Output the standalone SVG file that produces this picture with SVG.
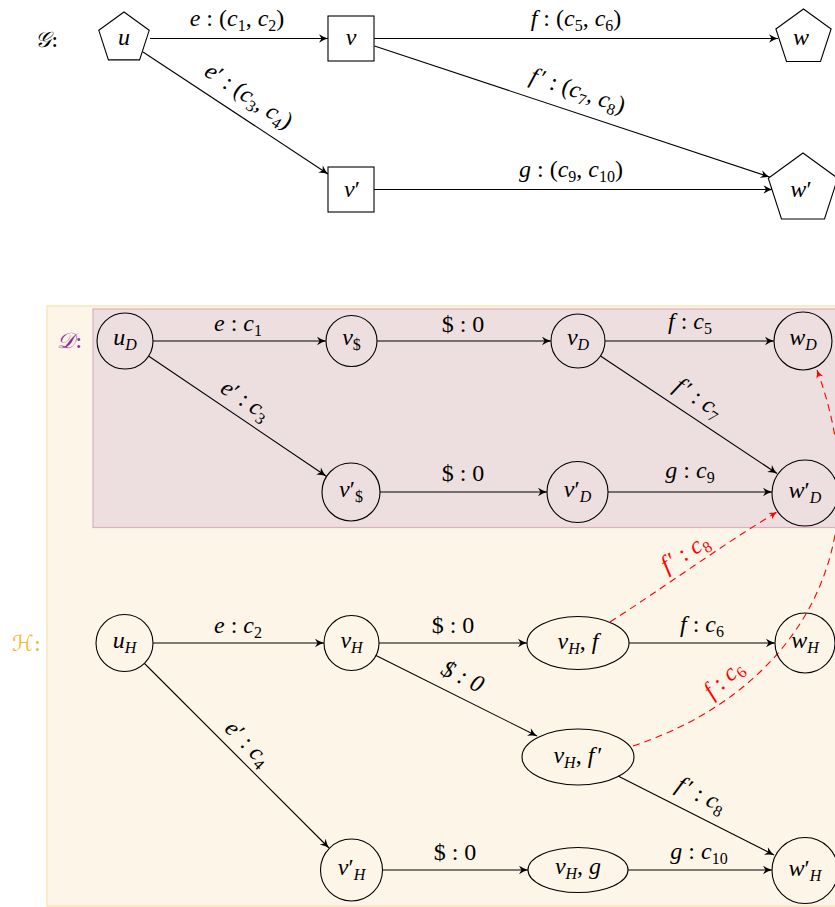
<svg xmlns="http://www.w3.org/2000/svg" width="835" height="907" viewBox="0 0 835 907">
<style>
.m{font-family:"Liberation Serif","DejaVu Serif",serif;font-size:24px;fill:#000;text-anchor:middle}
.i{font-style:italic}
.s{font-size:16px}
.red{fill:#ff0000}
.e{fill:none;stroke:#000;stroke-width:1.1;marker-end:url(#ar)}
.rd{fill:none;stroke:#ff0000;stroke-width:1.1;stroke-dasharray:7 5;marker-end:url(#arr)}
.n{fill:none;stroke:#000;stroke-width:1.1}
.nw{fill:#fff;stroke:#000;stroke-width:1.1}
.sc{font-family:"DejaVu Serif","DejaVu Sans",serif;font-size:22px;font-style:italic}
</style>
<defs>
<marker id="ar" viewBox="-10 -5 11 10" refX="0" refY="0" markerWidth="11" markerHeight="10" markerUnits="userSpaceOnUse" orient="auto"><path d="M-9,-4.2 Q-4,-1 0,0 Q-4,1 -9,4.2 L-6.5,0 Z" fill="#000"/></marker>
<marker id="arr" viewBox="-10 -5 11 10" refX="0" refY="0" markerWidth="11" markerHeight="10" markerUnits="userSpaceOnUse" orient="auto"><path d="M-8,-3.6 Q-3.5,-0.9 0,0 Q-3.5,0.9 -8,3.6 L-5.8,0 Z" fill="#ff0000"/></marker>
</defs>
<rect width="835" height="907" fill="#fff"/>

<g id="box-H"><rect x="47" y="306" width="800" height="600" fill="#fdf5e8" stroke="#fde0a6" stroke-width="1.2"/>
<text class="sc" x="12" y="651" fill="#f7b733">ℋ<tspan font-style="normal">:</tspan></text></g>
<g id="box-D"><rect x="93" y="309" width="760" height="218.5" fill="#eddfdf" stroke="#d9b0c2" stroke-width="1.2"/>
<text class="sc" x="57" y="348" fill="#952a95">𝒟<tspan font-style="normal">:</tspan></text></g>

<g id="label-G"><text class="sc" x="35" y="47" fill="#000">𝒢<tspan font-style="normal">:</tspan></text></g>

<g id="connectors">
<path class="e" d="M150,38.5 H328"/>
<path class="e" d="M374,38.5 H778"/>
<path class="e" d="M143,52 L328,174"/>
<path class="e" d="M374.5,46 L769.5,177"/>
<path class="e" d="M374,189.5 H772.5"/>

<path class="e" d="M153,341 H326"/>
<path class="e" d="M377,341 H551"/>
<path class="e" d="M605,341 H774"/>
<path class="e" d="M148.5,356 L326,476"/>
<path class="e" d="M380,492 H547"/>
<path class="e" d="M600.5,356 L777,473.5"/>
<path class="e" d="M608,492 H772"/>

<path class="e" d="M153,643 H324"/>
<path class="e" d="M379,643 H527"/>
<path class="e" d="M376,655.5 L537,736"/>
<path class="e" d="M629,643 H775"/>
<path class="e" d="M144.5,663.5 L329,848"/>
<path class="e" d="M618,776 L774,855"/>
<path class="e" d="M382.5,870 H528"/>
<path class="e" d="M628,870 H772"/>

<path class="rd" d="M610,622 C660,590 722,545 777,512"/>
<path class="rd" d="M633,746 C790,694 885,555 817,370"/>

<text class="m" x="237" y="26"><tspan class="i">e</tspan> : (<tspan class="i">c</tspan><tspan class="s" dy="5">1</tspan><tspan dy="-5">, </tspan><tspan class="i">c</tspan><tspan class="s" dy="5">2</tspan><tspan dy="-5">)</tspan></text>
<text class="m" x="576" y="26"><tspan class="i">f</tspan> : (<tspan class="i">c</tspan><tspan class="s" dy="5">5</tspan><tspan dy="-5">, </tspan><tspan class="i">c</tspan><tspan class="s" dy="5">6</tspan><tspan dy="-5">)</tspan></text>
<text class="m" x="571" y="177"><tspan class="i">g</tspan> : (<tspan class="i">c</tspan><tspan class="s" dy="5">9</tspan><tspan dy="-5">, </tspan><tspan class="i">c</tspan><tspan class="s" dy="5">10</tspan><tspan dy="-5">)</tspan></text>
<text class="m" transform="translate(247.5,98) rotate(33.4)" x="0" y="5"><tspan class="i">e</tspan>′ : (<tspan class="i">c</tspan><tspan class="s" dy="5">3</tspan><tspan dy="-5">, </tspan><tspan class="i">c</tspan><tspan class="s" dy="5">4</tspan><tspan dy="-5">)</tspan></text>
<text class="m" transform="translate(577,93) rotate(18.3)" x="0" y="5"><tspan class="i">f</tspan><tspan dx="3">′</tspan> : (<tspan class="i">c</tspan><tspan class="s" dy="5">7</tspan><tspan dy="-5">, </tspan><tspan class="i">c</tspan><tspan class="s" dy="5">8</tspan><tspan dy="-5">)</tspan></text>

<text class="m" x="238" y="331"><tspan class="i">e</tspan> : <tspan class="i">c</tspan><tspan class="s" dy="5">1</tspan></text>
<text class="m" x="463" y="332">$ : 0</text>
<text class="m" x="690" y="329"><tspan class="i">f</tspan> : <tspan class="i">c</tspan><tspan class="s" dy="5">5</tspan></text>
<text class="m" transform="translate(244,402) rotate(33.6)" x="0" y="5"><tspan class="i">e</tspan>′ : <tspan class="i">c</tspan><tspan class="s" dy="5">3</tspan></text>
<text class="m" x="463" y="481">$ : 0</text>
<text class="m" transform="translate(697,400) rotate(33.8)" x="0" y="5"><tspan class="i">f</tspan><tspan dx="3">′</tspan> : <tspan class="i">c</tspan><tspan class="s" dy="5">7</tspan></text>
<text class="m" x="690" y="478"><tspan class="i">g</tspan> : <tspan class="i">c</tspan><tspan class="s" dy="5">9</tspan></text>

<text class="m" x="238" y="633"><tspan class="i">e</tspan> : <tspan class="i">c</tspan><tspan class="s" dy="5">2</tspan></text>
<text class="m" x="453" y="633">$ : 0</text>
<text class="m" x="702" y="632"><tspan class="i">f</tspan> : <tspan class="i">c</tspan><tspan class="s" dy="5">6</tspan></text>
<text class="m i" transform="translate(462,678) rotate(26.3)" x="0" y="6">$ : 0</text>
<text class="m" transform="translate(700,797) rotate(26.5)" x="0" y="5"><tspan class="i">f</tspan><tspan dx="3">′</tspan> : <tspan class="i">c</tspan><tspan class="s" dy="5">8</tspan></text>
<text class="m" transform="translate(246,745) rotate(44.8)" x="0" y="5"><tspan class="i">e</tspan>′ : <tspan class="i">c</tspan><tspan class="s" dy="5">4</tspan></text>
<text class="m" x="455" y="860">$ : 0</text>
<text class="m" x="699" y="859"><tspan class="i">g</tspan> : <tspan class="i">c</tspan><tspan class="s" dy="5">10</tspan></text>

<text class="m red" transform="translate(686,555) rotate(-32.5)" x="0" y="5"><tspan class="i">f</tspan><tspan dx="3">′</tspan> : <tspan class="i">c</tspan><tspan class="s" dy="5">8</tspan></text>
<text class="m red" transform="translate(725,681) rotate(-42)" x="0" y="5"><tspan class="i">f</tspan> : <tspan class="i">c</tspan><tspan class="s" dy="5">6</tspan></text>
</g>

<g id="node-u"><polygon class="nw" points="124,12 149.2,30.3 139.6,59.9 108.4,59.9 98.8,30.3"/><text class="m i" x="124" y="45">u</text></g>
<g id="node-v"><rect class="nw" x="328" y="16" width="46" height="45"/><text class="m i" x="351" y="45">v</text></g>
<g id="node-vp"><rect class="nw" x="328" y="167" width="46" height="45"/><text class="m" x="352" y="197"><tspan class="i">v</tspan>′</text></g>
<g id="node-w"><polygon class="nw" points="803.5,9 831.1,29 820.5,61.5 786.5,61.5 775.9,29"/><text class="m i" x="801" y="45">w</text></g>
<g id="node-wp"><polygon class="nw" points="803,153 837.7,178.2 824.5,219 781.5,219 768.3,178.2"/><text class="m" x="801" y="197"><tspan class="i">w</tspan>′</text></g>

<g id="node-uD"><circle class="n" cx="125" cy="341" r="28"/><text class="m" x="125" y="345"><tspan class="i">u</tspan><tspan class="i s" dy="5">D</tspan></text></g>
<g id="node-vS"><circle class="n" cx="351.5" cy="341" r="25.5"/><text class="m" x="351.5" y="345"><tspan class="i">v</tspan><tspan class="s" dy="5">$</tspan></text></g>
<g id="node-vD"><circle class="n" cx="578" cy="341" r="27"/><text class="m" x="578" y="345"><tspan class="i">v</tspan><tspan class="i s" dy="5">D</tspan></text></g>
<g id="node-wD"><circle class="n" cx="803" cy="341" r="29"/><text class="m" x="803" y="345"><tspan class="i">w</tspan><tspan class="i s" dy="5">D</tspan></text></g>
<g id="node-vSp"><circle class="n" cx="351" cy="492" r="29"/><text class="m" x="351" y="497"><tspan class="i">v</tspan>′<tspan class="s" dy="5">$</tspan></text></g>
<g id="node-vDp"><circle class="n" cx="577.5" cy="492" r="30.5"/><text class="m" x="577.5" y="497"><tspan class="i">v</tspan>′<tspan class="i s" dy="5">D</tspan></text></g>
<g id="node-wDp"><circle class="n" cx="805" cy="493" r="33"/><text class="m" x="805" y="498"><tspan class="i">w</tspan>′<tspan class="i s" dy="5">D</tspan></text></g>

<g id="node-uH"><circle class="n" cx="124.5" cy="643" r="28.5"/><text class="m" x="124.5" y="648"><tspan class="i">u</tspan><tspan class="i s" dy="5">H</tspan></text></g>
<g id="node-vH"><circle class="n" cx="351.5" cy="643" r="27.5"/><text class="m" x="351.5" y="648"><tspan class="i">v</tspan><tspan class="i s" dy="5">H</tspan></text></g>
<g id="node-vHp"><circle class="n" cx="351.5" cy="870" r="31"/><text class="m" x="351.5" y="875"><tspan class="i">v</tspan>′<tspan class="i s" dy="5">H</tspan></text></g>
<g id="node-vHf"><ellipse class="n" cx="578" cy="643" rx="51" ry="26.5"/><text class="m" x="578" y="649"><tspan class="i">v</tspan><tspan class="i s" dy="5">H</tspan><tspan dy="-5">, </tspan><tspan class="i">f</tspan></text></g>
<g id="node-vHfp"><ellipse class="n" cx="578" cy="757" rx="56" ry="28"/><text class="m" x="578" y="763"><tspan class="i">v</tspan><tspan class="i s" dy="5">H</tspan><tspan dy="-5">, </tspan><tspan class="i">f</tspan><tspan dx="3">′</tspan></text></g>
<g id="node-vHg"><ellipse class="n" cx="578" cy="870" rx="50" ry="22.5"/><text class="m" x="578" y="874"><tspan class="i">v</tspan><tspan class="i s" dy="5">H</tspan><tspan dy="-5">, </tspan><tspan class="i">g</tspan></text></g>
<g id="node-wH"><circle class="n" cx="805" cy="643" r="30"/><text class="m" x="805" y="648"><tspan class="i">w</tspan><tspan class="i s" dy="5">H</tspan></text></g>
<g id="node-wHp"><circle class="n" cx="805" cy="870.5" r="33"/><text class="m" x="805" y="876"><tspan class="i">w</tspan>′<tspan class="i s" dy="5">H</tspan></text></g>
</svg>
